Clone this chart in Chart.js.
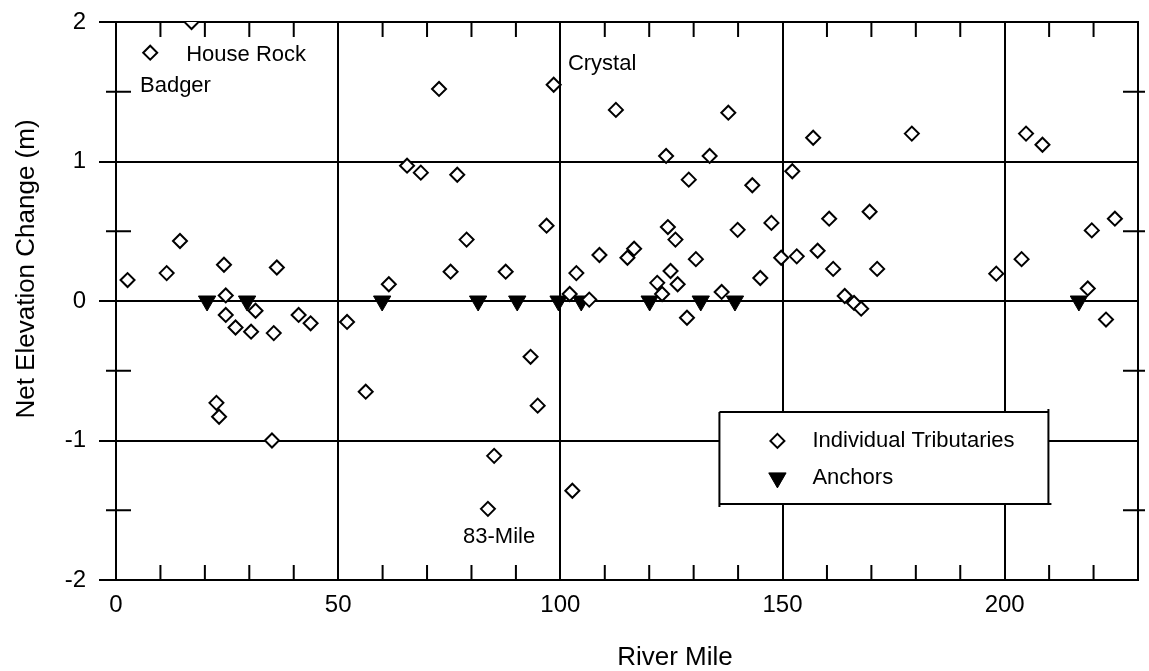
<!DOCTYPE html>
<html lang="en">
<head>
<meta charset="UTF-8">
<title>Net Elevation Change by River Mile</title>
<script src="https://cdn.jsdelivr.net/npm/chart.js@4.4.1/dist/chart.umd.min.js"></script>
<style>
    html, body { margin: 0; padding: 0; background: #fff; }
    #wrap { width: 1149px; height: 671px; position: relative; }
    canvas { display: block; }
</style>
</head>
<body>
<div id="wrap"><canvas id="chart"></canvas></div>
<script>
    // Individual tributaries (river mile, net elevation change in m)
    const tribMiles = [2.6, 7.7, 11.4, 14.4, 17.0, 22.6, 23.2, 24.3, 24.7, 24.7,
        26.9, 30.4, 31.4, 35.1, 35.5, 36.2, 41.1, 43.8, 52.0, 56.2,
        61.4, 65.5, 68.6, 72.7, 75.3, 76.8, 78.9, 83.7, 85.1, 87.7,
        93.3, 94.9, 96.9, 98.5, 102.1, 102.7, 103.6, 106.5, 108.8, 112.5,
        115.1, 116.6, 121.8, 122.9, 123.8, 124.2, 124.8, 125.9, 126.4, 128.5,
        128.9, 130.5, 133.6, 136.3, 137.8, 139.9, 143.2, 145.0, 147.5, 149.7,
        152.2, 153.2, 156.9, 157.9, 160.5, 161.4, 164.0, 166.1, 167.7, 169.6,
        171.3, 179.1, 198.1, 203.8, 204.8, 208.5, 218.7, 219.6, 222.8, 224.8];
    const tribChange = [0.15, 1.78, 0.20, 0.43, 2.0, -0.73, -0.83, 0.26, 0.04, -0.10,
        -0.19, -0.22, -0.07, -1.0, -0.23, 0.24, -0.10, -0.16, -0.15, -0.65,
        0.12, 0.97, 0.92, 1.52, 0.21, 0.905, 0.44, -1.49, -1.11, 0.21,
        -0.40, -0.75, 0.54, 1.55, 0.05, -1.36, 0.20, 0.01, 0.33, 1.37,
        0.31, 0.375, 0.13, 0.05, 1.04, 0.53, 0.215, 0.44, 0.12, -0.12,
        0.87, 0.30, 1.04, 0.065, 1.35, 0.51, 0.83, 0.165, 0.56, 0.31,
        0.93, 0.32, 1.17, 0.36, 0.59, 0.23, 0.036, -0.014, -0.055, 0.64,
        0.23, 1.20, 0.196, 0.30, 1.20, 1.12, 0.09, 0.506, -0.133, 0.59];

    // Anchor sites
    const anchorMiles = [20.5, 29.5, 59.9, 81.5, 90.3, 99.6, 104.7, 120.1, 131.6, 139.3, 216.7];
    const anchorChange = [0, 0, 0, 0, 0, 0, 0, 0, 0, 0, 0];

    // Labelled sites
    const siteNames = ['House Rock', 'Badger', 'Crystal', '83-Mile'];
    const siteLabelMile = [15.8, 5.4, 101.7, 78.1];
    const siteLabelChange = [1.765, 1.545, 1.70, -1.69];

    const xMin = 0, xMax = 230, xStep = 50, xMinorStep = 10;
    const yMin = -2, yMax = 2, yStep = 1;
    const yMinorTicks = [-1.5, -0.5, 0.5, 1.5];

    const FONT = "'Liberation Sans', Arial, Helvetica, sans-serif";

    const toPoints = (xs, ys) => xs.map((v, i) => ({ x: v, y: ys[i] }));

    // frame, minor ticks, labels, legend and axis titles
    const decorations = {
        id: 'decorations',
        afterDatasetsDraw(chart) {
            const { ctx, chartArea: a, scales: { x, y } } = chart;
            ctx.save();
            ctx.strokeStyle = '#000';
            ctx.lineWidth = 2;
            ctx.beginPath();
            ctx.moveTo(a.right, a.top - 1);
            ctx.lineTo(a.right, a.bottom + 1);
            for (let v = xMinorStep; v < xMax; v += xMinorStep) {
                if (v % xStep === 0) continue;
                const px = x.getPixelForValue(v);
                ctx.moveTo(px, a.top); ctx.lineTo(px, a.top + 15);
                ctx.moveTo(px, a.bottom); ctx.lineTo(px, a.bottom - 15);
            }
            yMinorTicks.forEach(v => {
                const py = y.getPixelForValue(v);
                ctx.moveTo(a.left - 10, py); ctx.lineTo(a.left + 15, py);
                ctx.moveTo(a.right - 15, py); ctx.lineTo(a.right + 7, py);
            });
            ctx.stroke();

            // site labels
            ctx.fillStyle = '#000';
            ctx.font = '22px ' + FONT;
            ctx.textAlign = 'left';
            ctx.textBaseline = 'middle';
            siteNames.forEach((name, i) => {
                ctx.fillText(name, x.getPixelForValue(siteLabelMile[i]), y.getPixelForValue(siteLabelChange[i]));
            });

            // legend box
            const bx = x.getPixelForValue(135.8), by = y.getPixelForValue(-0.795);
            const bw = 329, bh = 92;
            ctx.fillStyle = '#fff';
            ctx.fillRect(bx, by, bw, bh);
            ctx.beginPath();
            ctx.moveTo(bx, by); ctx.lineTo(bx + bw, by);
            ctx.moveTo(bx, by); ctx.lineTo(bx, by + bh + 3);
            ctx.moveTo(bx, by + bh); ctx.lineTo(bx + bw + 3, by + bh);
            ctx.moveTo(bx + bw, by - 3); ctx.lineTo(bx + bw, by + bh);
            ctx.stroke();
            const rows = [29, 66];
            chart.data.datasets.forEach((ds, i) => {
                const cy = by + rows[i];
                ctx.fillStyle = ds.backgroundColor;
                ctx.strokeStyle = '#000';
                ctx.lineWidth = ds.borderWidth;
                Chart.helpers.drawPoint(ctx, {
                    pointStyle: ds.pointStyle, rotation: ds.rotation || 0,
                    radius: ds.pointRadius, borderWidth: ds.borderWidth
                }, bx + 58, cy);
                ctx.fillStyle = '#000';
                ctx.fillText(ds.label, bx + 93, cy);
            });

            // axis titles
            ctx.font = '26px ' + FONT;
            ctx.textAlign = 'center';
            ctx.textBaseline = 'alphabetic';
            ctx.fillText('River Mile', 675, 665);
            ctx.save();
            ctx.translate(34, 269);
            ctx.rotate(-Math.PI / 2);
            ctx.fillText('Net Elevation Change (m)', 0, 0);
            ctx.restore();
            ctx.restore();
        }
    };

    new Chart(document.getElementById('chart'), {
        type: 'scatter',
        data: {
            datasets: [
                {
                    label: 'Individual Tributaries',
                    data: toPoints(tribMiles, tribChange),
                    pointStyle: 'rectRot',
                    pointRadius: 7,
                    borderWidth: 2,
                    borderColor: '#000',
                    backgroundColor: '#fff'
                },
                {
                    label: 'Anchors',
                    data: toPoints(anchorMiles, anchorChange),
                    pointStyle: 'triangle',
                    rotation: 180,
                    pointRadius: 10,
                    borderWidth: 1,
                    borderColor: '#000',
                    backgroundColor: '#000'
                }
            ]
        },
        options: {
            responsive: true,
            maintainAspectRatio: false,
            animation: false,
            events: [],
            layout: { padding: { top: 22, right: 7, left: 0, bottom: 0 } },
            plugins: {
                legend: { display: false },
                tooltip: { enabled: false }
            },
            scales: {
                x: {
                    type: 'linear',
                    min: xMin,
                    max: xMax,
                    afterFit: s => { s.height = 91; s.paddingRight = 0; },
                    ticks: {
                        stepSize: xStep,
                        includeBounds: false,
                        color: '#000',
                        padding: 11,
                        font: { family: FONT, size: 24 }
                    },
                    grid: { color: '#000', lineWidth: 2, drawTicks: false },
                    border: { color: '#000', width: 2 }
                },
                y: {
                    type: 'linear',
                    min: yMin,
                    max: yMax,
                    afterFit: s => { s.width = 116; s.paddingTop = 0; s.paddingBottom = 0; },
                    ticks: {
                        stepSize: yStep,
                        color: '#000',
                        padding: 13,
                        font: { family: FONT, size: 24 }
                    },
                    grid: { color: '#000', lineWidth: 2, drawTicks: true, tickLength: 17 },
                    border: { color: '#000', width: 2 }
                }
            }
        },
        plugins: [decorations]
    });
</script>
</body>
</html>
